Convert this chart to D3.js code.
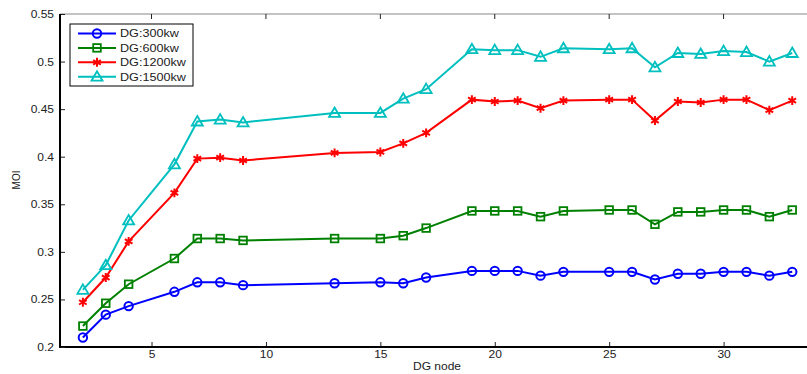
<!DOCTYPE html>
<html>
<head>
<meta charset="utf-8">
<script src="https://cdn.jsdelivr.net/npm/d3@7"></script>
<style>
  body { margin: 0; background: #fff; }
  svg { font-family: "Liberation Sans", Arial, sans-serif; }
</style>
</head>
<body>
<svg class="grafico"></svg>
<script>
// datos
var nodos = [2, 3, 4, 6, 7, 8, 9, 13, 15, 16, 17, 19, 20, 21, 22, 23, 25, 26, 27, 28, 29, 30, 31, 32, 33];

var dg300 = [0.210, 0.234, 0.243, 0.258, 0.268, 0.268, 0.265, 0.267, 0.268, 0.267, 0.273,
  0.280, 0.280, 0.280, 0.275, 0.279, 0.279, 0.279, 0.271, 0.277, 0.277, 0.279, 0.279, 0.275, 0.279];
var dg600 = [0.222, 0.246, 0.266, 0.293, 0.314, 0.314, 0.312, 0.314, 0.314, 0.317, 0.325,
  0.343, 0.343, 0.343, 0.337, 0.343, 0.344, 0.344, 0.329, 0.342, 0.342, 0.344, 0.344, 0.337, 0.344];
var dg1200 = [0.247, 0.273, 0.311, 0.362, 0.398, 0.399, 0.396, 0.404, 0.405, 0.414, 0.425,
  0.460, 0.458, 0.459, 0.451, 0.459, 0.460, 0.460, 0.438, 0.458, 0.457, 0.460, 0.460, 0.449, 0.459];
var dg1500 = [0.260, 0.286, 0.333, 0.392, 0.437, 0.439, 0.436, 0.446, 0.446, 0.461, 0.471,
  0.513, 0.512, 0.512, 0.505, 0.514, 0.513, 0.514, 0.494, 0.509, 0.508, 0.511, 0.510, 0.500, 0.509];

var nombres = ["DG:300kw", "DG:600kw", "DG:1200kw", "DG:1500kw"];
var yTicks = [0.2, 0.25, 0.3, 0.35, 0.4, 0.45, 0.5, 0.55];
var xTicks = [5, 10, 15, 20, 25, 30];

var series = [
  { nombre: nombres[0], valores: dg300, color: "#0000ff", marca: "circulo" },
  { nombre: nombres[1], valores: dg600, color: "#008000", marca: "cuadrado" },
  { nombre: nombres[2], valores: dg1200, color: "#ff0000", marca: "estrella" },
  { nombre: nombres[3], valores: dg1500, color: "#00bfbf", marca: "triangulo" }
];

var w = 807, h = 374;
var izq = 60, arriba = 14, abajo = 347;
var estirar = 1.2; // el texto del original sale ensanchado

var svg = d3.select(".grafico").attr("width", w).attr("height", h);

var x = d3.scaleLinear().domain([1, 34]).range([izq, 37.2 + 34 * 22.88]);
var y = d3.scaleLinear().domain([0.2, 0.55]).range([abajo, arriba]);

// ensancha un texto manteniendo el ancla
function ensanchar(sel, f) {
  sel.each(function() {
    var largo = this.getComputedTextLength();
    d3.select(this).attr("textLength", largo * (f || estirar)).attr("lengthAdjust", "spacingAndGlyphs");
  });
}

// borde superior gris
svg.append("line")
  .attr("x1", izq).attr("x2", w).attr("y1", arriba).attr("y2", arriba)
  .attr("stroke", "#888").attr("stroke-width", 1.2);

// ticks superiores
svg.append("g").selectAll("line").data(xTicks).enter().append("line")
  .attr("x1", function(d) { return x(d); })
  .attr("x2", function(d) { return x(d); })
  .attr("y1", arriba).attr("y2", arriba + 5)
  .attr("stroke", "#222").attr("stroke-width", 1);

// eje x
var ejeX = svg.append("g")
  .attr("transform", "translate(0," + abajo + ")")
  .call(d3.axisBottom(x).tickValues(xTicks).tickSize(-5).tickPadding(4));
ejeX.select(".domain").remove();
ejeX.append("line").attr("x1", izq - 1).attr("x2", w).attr("stroke", "#000").attr("stroke-width", 2);

// eje y
var ejeY = svg.append("g")
  .attr("transform", "translate(" + izq + ",0)")
  .call(d3.axisLeft(y).tickValues(yTicks).tickSize(-5).tickPadding(6)
    .tickFormat(function(d) { return String(+d.toFixed(2)); }));
ejeY.select(".domain").remove();
ejeY.append("line").attr("y1", arriba).attr("y2", abajo + 1).attr("stroke", "#000").attr("stroke-width", 2);

svg.selectAll(".tick text").attr("font-size", 10).attr("fill", "#222")
  .attr("font-family", "'Liberation Sans', Arial, sans-serif");
svg.selectAll(".tick line").attr("stroke", "#222");
ejeY.selectAll(".tick text").attr("dy", "0.35em");
ensanchar(svg.selectAll(".tick text"));

// etiquetas
svg.append("text")
  .attr("x", 437).attr("y", 370)
  .attr("text-anchor", "middle").attr("font-size", 10).attr("fill", "#222")
  .text("DG node")
  .call(ensanchar);
svg.append("text")
  .attr("transform", "translate(20,180) rotate(-90)")
  .attr("text-anchor", "middle").attr("font-size", 10).attr("fill", "#222")
  .text("MOI");

function dibujarMarca(g, marca, color) {
  if (marca === "circulo") {
    g.append("circle").attr("r", 4.2).attr("fill", "none")
      .attr("stroke", color).attr("stroke-width", 2);
  } else if (marca === "cuadrado") {
    g.append("rect").attr("x", -3.8).attr("y", -3.8).attr("width", 7.6).attr("height", 7.6)
      .attr("fill", "none").attr("stroke", color).attr("stroke-width", 1.8);
  } else if (marca === "estrella") {
    g.append("path").attr("d", d3.symbol(d3.symbolAsterisk, 55)())
      .attr("fill", "none").attr("stroke", color).attr("stroke-width", 2);
  } else {
    g.append("path").attr("d", "M0,-5.5L5.5,4L-5.5,4Z")
      .attr("fill", "none").attr("stroke", color).attr("stroke-width", 1.8)
      .attr("stroke-linejoin", "miter");
  }
}

var linea = d3.line()
  .x(function(d, i) { return x(nodos[i]); })
  .y(function(d) { return y(d); });

var capa = svg.append("g");
series.forEach(function(s) {
  capa.append("path")
    .attr("d", linea(s.valores))
    .attr("fill", "none").attr("stroke", s.color).attr("stroke-width", 2);
  capa.append("g").selectAll("g").data(s.valores).enter().append("g")
    .attr("transform", function(d, i) { return "translate(" + x(nodos[i]) + "," + y(d) + ")"; })
    .each(function() { dibujarMarca(d3.select(this), s.marca, s.color); });
});

// leyenda
var ley = svg.append("g").attr("transform", "translate(70,24)");
ley.append("rect").attr("width", 123).attr("height", 62)
  .attr("fill", "#fff").attr("stroke", "#000").attr("stroke-width", 1);
series.forEach(function(s, i) {
  var fy = 9.5 + i * 14.4;
  ley.append("line").attr("x1", 8).attr("x2", 46).attr("y1", fy).attr("y2", fy)
    .attr("stroke", s.color).attr("stroke-width", 2);
  var m = ley.append("g").attr("transform", "translate(27," + fy + ")");
  dibujarMarca(m, s.marca, s.color);
  ley.append("text").attr("x", 50).attr("y", fy).attr("dy", "0.38em")
    .attr("font-size", 10.5).attr("fill", "#222").text(s.nombre)
    .call(ensanchar);
});
</script>
</body>
</html>
